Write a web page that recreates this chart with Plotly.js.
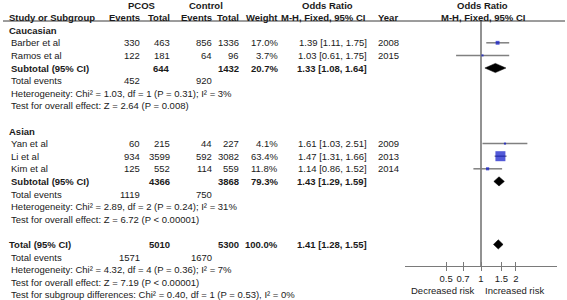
<!DOCTYPE html>
<html>
<head>
<meta charset="utf-8">
<script src="https://cdn.plot.ly/plotly-3.0.1.min.js"></script>
<style>html,body{margin:0;padding:0;background:#fff;}#chart{width:567px;height:300px;}</style>
</head>
<body>
<div id="chart"></div>
<script>
// ---------- data ----------
const groupNames = ['Caucasian', 'Asian'];
const studyGroup = [0, 0, 1, 1, 1];
const studies = ['Barber et al', 'Ramos et al', 'Yan et al', 'Li et al', 'Kim et al'];
const pcosEvents = [330, 122, 60, 934, 125];
const pcosTotal = [463, 181, 215, 3599, 552];
const ctrlEvents = [856, 64, 44, 592, 114];
const ctrlTotal = [1336, 96, 227, 3082, 559];
const weights = [17.0, 3.7, 4.1, 63.4, 11.8];
const oddsRatio = [1.39, 1.03, 1.61, 1.47, 1.14];
const ciLow = [1.11, 0.61, 1.03, 1.31, 0.86];
const ciHigh = [1.75, 1.75, 2.51, 1.66, 1.52];
const years = [2008, 2015, 2009, 2013, 2014];

const subPcosTotal = [644, 4366];
const subCtrlTotal = [1432, 3868];
const subWeight = [20.7, 79.3];
const subOR = [1.33, 1.43];
const subLow = [1.08, 1.29];
const subHigh = [1.64, 1.59];
const subPcosEvents = [452, 1119];
const subCtrlEvents = [920, 750];
const subHet = ['Heterogeneity: Chi² = 1.03, df = 1 (P = 0.31); I² = 3%',
                'Heterogeneity: Chi² = 2.89, df = 2 (P = 0.24); I² = 31%'];
const subTest = ['Test for overall effect: Z = 2.64 (P = 0.008)',
                 'Test for overall effect: Z = 6.72 (P < 0.00001)'];

const totPcosTotal = 5010, totCtrlTotal = 5300, totWeight = 100.0;
const totOR = 1.41, totLow = 1.28, totHigh = 1.55;
const totPcosEvents = 1571, totCtrlEvents = 1670;
const totHet = 'Heterogeneity: Chi² = 4.32, df = 4 (P = 0.36); I² = 7%';
const totTest = 'Test for overall effect: Z = 7.19 (P < 0.00001)';
const subgroupDiff = 'Test for subgroup differences: Chi² = 0.40, df = 1 (P = 0.53), I² = 0%';

const tickVals = [0.5, 0.7, 1, 1.5, 2];
const tickText = ['0.5', '0.7', '1', '1.5', '2'];
const favLeft = 'Decreased risk', favRight = 'Increased risk';

// ---------- layout helpers ----------
const W = 567, H = 300;
const FONT = 'Liberation Sans, Arial, sans-serif';
const TXT = '#1a1a1a';
const FS = 9.5;
const rowY = k => 5 + 12.6 * k;
const px = x => x / W;
const ann = [];
function t(x, y, s, anchor, bold) {
  ann.push({xref: 'paper', yref: 'y', x: px(x), y: y, text: bold ? '<b>' + s + '</b>' : s,
    xanchor: anchor, yanchor: 'middle', showarrow: false, borderpad: 0,
    font: {family: FONT, size: FS, color: TXT}});
}
const fmtW = w => w.toFixed(1) + '%';
const fmtCI = (o, l, h) => o.toFixed(2) + ' [' + l.toFixed(2) + ', ' + h.toFixed(2) + ']';

// column positions (right edges unless noted)
const C = {name: 8, pe: 141, pt: 171, ce: 213, ct: 240, w: 279, or: 368, yr: 377};

// headers
t(141, rowY(0), 'PCOS', 'center', true);
t(206, rowY(0), 'Control', 'center', true);
t(327, rowY(0), 'Odds Ratio', 'center', true);
t(482, rowY(0), 'Odds Ratio', 'center', true);
t(C.name, rowY(1), 'Study or Subgroup', 'left', true);
t(C.pe, rowY(1), 'Events', 'right', true);
t(C.pt, rowY(1), 'Total', 'right', true);
t(C.ce, rowY(1), 'Events', 'right', true);
t(C.ct, rowY(1), 'Total', 'right', true);
t(C.w, rowY(1), 'Weight', 'right', true);
t(C.or - 2, rowY(1), 'M-H, Fixed, 95% CI', 'right', true);
t(C.yr, rowY(1), 'Year', 'left', true);
t(483, rowY(1), 'M-H, Fixed, 95% CI', 'center', true);

const traces = [];
const ciX = [], ciY = [], sqX = [], sqY = [], sqS = [];
const maxW = Math.max(...weights);
function diamond(o, l, h, y) {
  traces.push({type: 'scatter', mode: 'lines', x: [l, o, h, o, l], y: [y, y - 4.6, y, y + 4.6, y],
    fill: 'toself', fillcolor: '#000', line: {color: '#000', width: 0.5},
    xaxis: 'x', yaxis: 'y', hoverinfo: 'skip'});
}

let k = 2;
groupNames.forEach((g, gi) => {
  t(C.name, rowY(k), g, 'left', true); k++;
  studies.forEach((s, i) => {
    if (studyGroup[i] !== gi) return;
    const y = rowY(k);
    t(C.name + 2, y, s, 'left', false);
    t(C.pe, y, String(pcosEvents[i]), 'right');
    t(C.pt, y, String(pcosTotal[i]), 'right');
    t(C.ce, y, String(ctrlEvents[i]), 'right');
    t(C.ct, y, String(ctrlTotal[i]), 'right');
    t(C.w, y, fmtW(weights[i]), 'right');
    t(C.or, y, fmtCI(oddsRatio[i], ciLow[i], ciHigh[i]), 'right');
    t(C.yr, y, String(years[i]), 'left');
    ciX.push(ciLow[i], ciHigh[i], null); ciY.push(y, y, null);
    sqX.push(oddsRatio[i]); sqY.push(y);
    sqS.push(1.6 + 8.4 * weights[i] / maxW);
    k++;
  });
  let y = rowY(k);
  t(C.name + 2, y, 'Subtotal (95% CI)', 'left', true);
  t(C.pt, y, String(subPcosTotal[gi]), 'right', true);
  t(C.ct, y, String(subCtrlTotal[gi]), 'right', true);
  t(C.w, y, fmtW(subWeight[gi]), 'right', true);
  t(C.or, y, fmtCI(subOR[gi], subLow[gi], subHigh[gi]), 'right', true);
  diamond(subOR[gi], subLow[gi], subHigh[gi], y);
  k++; y = rowY(k);
  t(C.name + 2, y, 'Total events', 'left');
  t(C.pe, y, String(subPcosEvents[gi]), 'right');
  t(C.ce, y, String(subCtrlEvents[gi]), 'right');
  k++;
  t(C.name + 2, rowY(k), subHet[gi], 'left'); k++;
  t(C.name + 2, rowY(k), subTest[gi], 'left'); k++;
  k++; // blank row
});
let y = rowY(k);
t(C.name, y, 'Total (95% CI)', 'left', true);
t(C.pt, y, String(totPcosTotal), 'right', true);
t(C.ct, y, String(totCtrlTotal), 'right', true);
t(C.w, y, fmtW(totWeight), 'right', true);
t(C.or, y, fmtCI(totOR, totLow, totHigh), 'right', true);
diamond(totOR, totLow, totHigh, y);
k++; y = rowY(k);
t(C.name + 2, y, 'Total events', 'left');
t(C.pe, y, String(totPcosEvents), 'right');
t(C.ce, y, String(totCtrlEvents), 'right');
k++;
t(C.name + 2, rowY(k), totHet, 'left'); k++;
t(C.name + 2, rowY(k), totTest, 'left'); k++;
t(C.name + 2, rowY(k), subgroupDiff, 'left');

// axis labels under forest plot
t(443, 290, favLeft, 'center');
t(514, 290, favRight, 'center');

const axisY = 266, headerY = 21;
// null line
traces.unshift({type: 'scatter', mode: 'lines', x: [1, 1], y: [headerY, axisY],
  line: {color: '#6e6e6e', width: 1.5}, xaxis: 'x', yaxis: 'y', hoverinfo: 'skip'});
traces.push({type: 'scatter', mode: 'lines', x: ciX, y: ciY, connectgaps: false,
  line: {color: '#808080', width: 1.5}, xaxis: 'x', yaxis: 'y', hoverinfo: 'skip'});
traces.push({type: 'scatter', mode: 'markers', x: sqX, y: sqY,
  marker: {symbol: 'square', size: sqS, color: '#0a14c8', line: {width: 0}},
  xaxis: 'x', yaxis: 'y', hoverinfo: 'skip'});
// dummy for the inner-tick overlay axis
traces.push({type: 'scatter', mode: 'markers', x: [1], y: [-100], marker: {opacity: 0},
  xaxis: 'x2', yaxis: 'y', hoverinfo: 'skip'});

const dom = [405 / W, 557 / W];
const rng = [-0.655, 0.655];
const pos = (H - axisY) / H;
const layout = {
  width: W, height: H, margin: {l: 0, r: 0, t: 0, b: 0},
  paper_bgcolor: '#fff', plot_bgcolor: 'rgba(0,0,0,0)', showlegend: false,
  font: {family: FONT, size: FS, color: TXT},
  xaxis: {type: 'log', domain: dom, range: rng, anchor: 'free', position: pos,
    showline: true, linecolor: '#7a7a7a', linewidth: 1, ticks: 'outside', ticklen: 4,
    tickcolor: '#7a7a7a', tickwidth: 1, tickmode: 'array', tickvals: tickVals, ticktext: tickText,
    tickfont: {family: FONT, size: FS, color: TXT}, showgrid: false, zeroline: false, fixedrange: true},
  xaxis2: {type: 'log', overlaying: 'x', domain: dom, range: rng, anchor: 'free', position: pos,
    showline: false, ticks: 'inside', ticklen: 4, tickcolor: '#7a7a7a', tickwidth: 1,
    tickmode: 'array', tickvals: tickVals, showticklabels: false, showgrid: false, zeroline: false},
  yaxis: {domain: [0, 1], range: [H, 0], visible: false, showgrid: false, zeroline: false, fixedrange: true},
  shapes: [{type: 'line', xref: 'paper', yref: 'y', x0: px(3), x1: px(565), y0: headerY, y1: headerY,
    line: {color: '#3a3a3a', width: 1}}],
  annotations: ann
};
Plotly.newPlot('chart', traces, layout, {staticPlot: true, displayModeBar: false});
</script>
</body>
</html>
